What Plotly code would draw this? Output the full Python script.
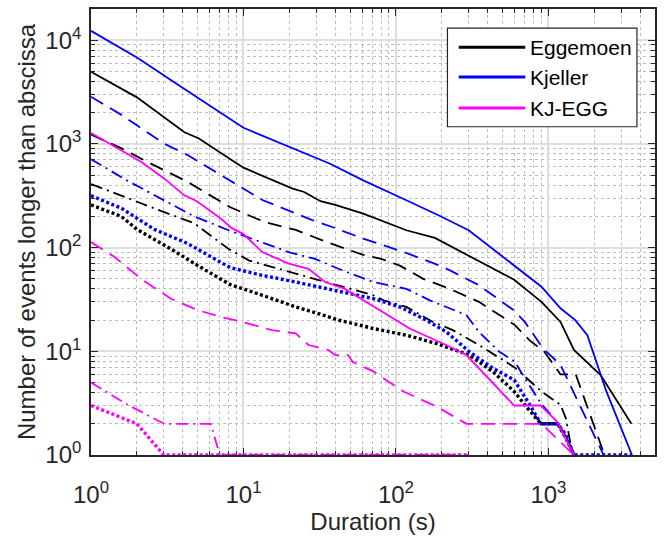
import numpy as np
import plotly.graph_objects as go

# Cumulative event counts: number of events longer than a given duration (s)
# Eggemoen
EGG_SOLID_X = [1, 2, 4.1, 5.1, 8.4, 10, 21, 25, 32, 40, 61, 117, 180, 596, 900, 1200, 1470, 2200, 3500]
EGG_SOLID_Y = [4960, 2810, 1295, 1127, 697, 590, 370, 344, 280, 258, 213, 147, 124, 49, 30, 19.2, 10.3, 5.9, 2]
EGG_DASH_X = [1, 1.6, 2.35, 4.3, 8.2, 12, 14.7, 22, 37, 61, 80, 106, 151, 225, 350, 600, 750, 940, 1120, 1200, 1510, 2330]
EGG_DASH_Y = [1230, 900, 670, 430, 245, 192, 172, 148, 110, 85, 78, 67, 50, 40, 30, 18, 12.8, 9.9, 6.9, 6, 6, 1]
EGG_DASHDOT_X = [1, 1.74, 3.17, 4.74, 8, 10.9, 15.4, 22, 31, 42, 71, 83, 117, 175, 236, 350, 600, 900, 1200, 1300, 1440]
EGG_DASHDOT_Y = [410, 299, 214, 172, 97, 75, 65, 56, 48.4, 43.4, 34.7, 31, 26.8, 19.2, 16, 11.5, 7, 4.1, 3.05, 2.27, 1]
EGG_DOT_X = [1, 1.58, 2, 3.34, 4.98, 8.2, 13.3, 22, 31, 42, 71, 117, 184, 303, 430, 596, 730, 894, 1150, 1300, 1470]
EGG_DOT_Y = [258, 200, 150, 97, 67.5, 44, 34.7, 26.8, 23.1, 20, 16.6, 14.3, 11.9, 9.2, 6.4, 4.1, 2.83, 2, 2, 1.46, 1]

# Kjeller
KJ_SOLID_X = [1, 2, 4.1, 10, 37, 50, 61, 117, 190, 300, 570, 900, 1200, 1500, 1800, 2400, 3530]
KJ_SOLID_Y = [12300, 6800, 3380, 1430, 644, 516, 445, 286, 205, 147, 70, 42, 26, 20, 14.3, 4.1, 1]
KJ_DASH_X = [1, 1.6, 2, 3, 4.3, 8.7, 13.3, 20, 28, 40, 61, 114, 200, 350, 590, 700, 920, 1200, 1800, 2300]
KJ_DASH_Y = [2850, 1890, 1510, 1010, 780, 415, 288, 226, 185, 154, 122, 90, 66, 43.4, 25, 19.2, 10.7, 7.4, 2.1, 1]
KJ_DASHDOT_X = [1, 1.74, 3.17, 4.74, 8.4, 20, 29.5, 42, 71, 117, 167, 290, 350, 476, 600, 700, 900, 1150, 1470]
KJ_DASHDOT_Y = [713, 440, 275, 200, 143, 90, 78, 62.5, 46.6, 40, 31, 22.3, 15.4, 9.9, 8, 5.5, 3.1, 2.05, 1]
KJ_DOT_X = [1, 1.58, 2.6, 4.28, 8.2, 13.3, 22, 36, 71, 106, 151, 214, 303, 430, 596, 730, 894, 1150, 1300, 1470, 3530]
KJ_DOT_Y = [317, 240, 150, 110, 64, 54, 46.6, 40, 32.2, 26.8, 20.7, 15.4, 9.9, 6.9, 5.3, 3.3, 2, 2, 1.57, 1, 1]

# Kjeller - Eggemoen
KE_SOLID_X = [1, 1.5, 2.13, 3.02, 4.07, 4.98, 7.06, 8.4, 10, 13.3, 19.8, 26.7, 34.3, 46.3, 71, 123, 203, 290, 596, 890, 1140, 1470]
KE_SOLID_Y = [1274, 904, 673, 465, 321, 278, 192, 154, 135, 90.5, 70, 62.5, 46.6, 40, 27, 16.6, 11.9, 9.2, 3, 3, 2.1, 1]
KE_DASH_X = [1, 1.43, 2.13, 3.34, 4.98, 7.06, 9.8, 15.4, 22, 26.7, 36, 40, 48.6, 52, 71, 112, 184, 290, 900, 1470]
KE_DASH_Y = [113, 81, 50, 32.2, 25, 21.5, 19.2, 16, 14.9, 11.5, 10.3, 9.2, 9.2, 7.9, 6.4, 4.1, 2.94, 2, 2, 1]
KE_DASHDOT_X = [1, 1.74, 3.02, 6.1, 7, 300]
KE_DASHDOT_Y = [5, 3.05, 2, 2, 1, 1]
KE_DOT_X = [1, 2, 3, 290]
KE_DOT_Y = [3, 2, 1, 1]

SITES = ["Eggemoen", "Kjeller", "KJ-EGG"]
COLORS = ["#000000", "#0000ff", "#ff00ff"]

X_TICKS = [1, 10, 100, 1000]
X_TICKTEXT = ["10<sup>0</sup>", "10<sup>1</sup>", "10<sup>2</sup>", "10<sup>3</sup>"]
Y_TICKS = [1, 10, 100, 1000, 10000]
Y_TICKTEXT = ["10<sup>0</sup>", "10<sup>1</sup>", "10<sup>2</sup>", "10<sup>3</sup>", "10<sup>4</sup>"]

FONT = "Liberation Sans, Arial, Helvetica, sans-serif"
INK = "#262626"

STYLES = {
    "solid": dict(dash="solid", width=1.8),
    "dash": dict(dash="14px,8px", width=1.8),
    "dashdot": dict(dash="12px,5px,2px,5px", width=1.8),
    "dot": dict(dash="3px,2.5px", width=3.4),
}

curves = [
    (EGG_SOLID_X, EGG_SOLID_Y, 0, "solid"),
    (EGG_DASH_X, EGG_DASH_Y, 0, "dash"),
    (EGG_DASHDOT_X, EGG_DASHDOT_Y, 0, "dashdot"),
    (EGG_DOT_X, EGG_DOT_Y, 0, "dot"),
    (KJ_SOLID_X, KJ_SOLID_Y, 1, "solid"),
    (KJ_DASH_X, KJ_DASH_Y, 1, "dash"),
    (KJ_DASHDOT_X, KJ_DASHDOT_Y, 1, "dashdot"),
    (KJ_DOT_X, KJ_DOT_Y, 1, "dot"),
    (KE_SOLID_X, KE_SOLID_Y, 2, "solid"),
    (KE_DASH_X, KE_DASH_Y, 2, "dash"),
    (KE_DASHDOT_X, KE_DASHDOT_Y, 2, "dashdot"),
    (KE_DOT_X, KE_DOT_Y, 2, "dot"),
]

fig = go.Figure()
for xs, ys, site, style in curves:
    fig.add_trace(go.Scatter(
        x=xs, y=ys, mode="lines", name=SITES[site], showlegend=False,
        line=dict(color=COLORS[site], **STYLES[style]),
    ))

x_range = [0, np.log10(5000)]
y_range = [0, np.log10(20000)]


def minor_vals(lo, hi):
    vals = []
    for e in range(int(np.floor(lo)), int(np.ceil(hi)) + 1):
        for m in range(2, 10):
            v = m * 10.0 ** e
            if 10 ** lo < v < 10 ** hi:
                vals.append(v)
    return vals


axis_common = dict(
    type="log",
    showline=True, linecolor=INK, linewidth=1.6, mirror="allticks",
    ticks="inside", ticklen=7, tickwidth=1, tickcolor=INK,
    showgrid=True, gridcolor="#dedede", gridwidth=1.6,
    tickfont=dict(family=FONT, size=24, color=INK),
    zeroline=False, layer="below traces",
)

fig.update_layout(
    width=664, height=537,
    margin=dict(l=91, r=7, t=8, b=81),
    paper_bgcolor="white", plot_bgcolor="white",
    font=dict(family=FONT, color=INK),
    xaxis=dict(
        range=x_range, tickvals=X_TICKS, ticktext=X_TICKTEXT,
        ticklabelstandoff=17,
        minor=dict(tickvals=minor_vals(*x_range), ticks="inside", ticklen=4,
                   tickcolor=INK, showgrid=True, gridcolor="#bdbdbd",
                   griddash="dot", gridwidth=1),
        title=dict(text="Duration (s)", font=dict(family=FONT, size=24, color=INK), standoff=6),
        **axis_common,
    ),
    yaxis=dict(
        range=y_range, tickvals=Y_TICKS, ticktext=Y_TICKTEXT,
        ticklabelstandoff=3,
        minor=dict(tickvals=minor_vals(*y_range), ticks="inside", ticklen=4,
                   tickcolor=INK, showgrid=True, gridcolor="#bdbdbd",
                   griddash="dot", gridwidth=1),
        title=dict(text="Number of events longer than abscissa",
                   font=dict(family=FONT, size=24, color=INK), standoff=3),
        **axis_common,
    ),
)

# Legend box with one solid sample line per site
LEG_X0, LEG_X1, LEG_Y0, LEG_Y1 = 0.632, 0.968, 0.736, 0.957
ROW_Y = [0.9145, 0.8475, 0.778]
fig.add_shape(type="rect", xref="paper", yref="paper",
              x0=LEG_X0, x1=LEG_X1, y0=LEG_Y0, y1=LEG_Y1,
              line=dict(color=INK, width=1.2), fillcolor="white", layer="above")
for site, ry in enumerate(ROW_Y):
    fig.add_shape(type="line", xref="paper", yref="paper",
                  x0=0.652, x1=0.770, y0=ry, y1=ry,
                  line=dict(color=COLORS[site], width=3), layer="above")
    fig.add_annotation(xref="paper", yref="paper", x=0.774, y=ry,
                       text=SITES[site], showarrow=False, xanchor="left", yanchor="middle",
                       font=dict(family=FONT, size=21, color="#000000"))

fig.write_html("out.html")
